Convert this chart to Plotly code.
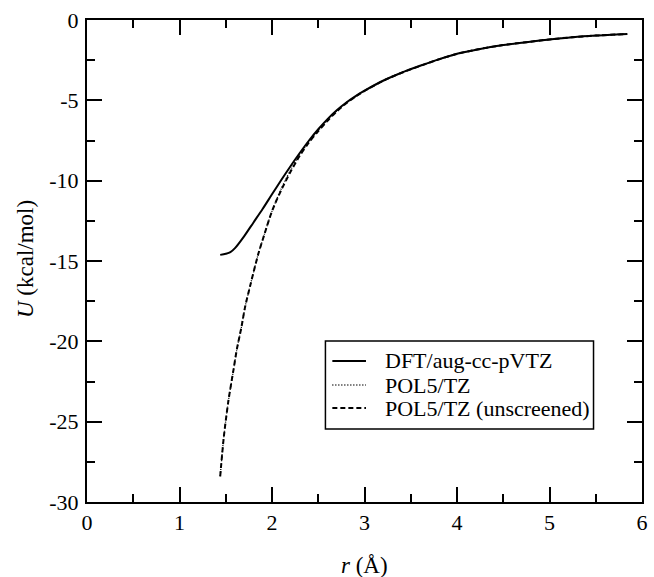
import plotly.graph_objects as go

# Interaction energy U (kcal/mol) versus separation r (Angstrom)
r_dft = [1.44, 1.50, 1.55, 1.60, 1.70, 1.80, 1.90, 2.00, 2.10, 2.20, 2.30, 2.40,
         2.50, 2.60, 2.70, 2.80, 2.90, 3.00, 3.20, 3.40, 3.60, 3.80, 4.00, 4.25,
         4.50, 4.75, 5.00, 5.25, 5.50, 5.84]
u_dft = [-14.62, -14.55, -14.45, -14.20, -13.45, -12.60, -11.75, -10.85, -9.96,
         -9.10, -8.28, -7.50, -6.80, -6.17, -5.62, -5.15, -4.75, -4.40, -3.78,
         -3.28, -2.85, -2.45, -2.10, -1.80, -1.56, -1.38, -1.21, -1.07, -0.97, -0.87]

r_pol = [1.44, 1.48, 1.53, 1.58, 1.62, 1.67, 1.71, 1.77, 1.85, 1.92, 2.00, 2.10,
         2.20, 2.30, 2.40, 2.50, 2.60, 2.70, 2.80, 2.90, 3.00, 3.20, 3.40, 3.60,
         3.80, 4.00, 4.25, 4.50, 4.75, 5.00, 5.25, 5.50, 5.84]
u_pol = [-28.40, -25.90, -23.65, -21.90, -20.50, -19.10, -17.84, -16.40, -14.60,
         -13.30, -11.90, -10.50, -9.35, -8.38, -7.58, -6.88, -6.24, -5.67, -5.18,
         -4.77, -4.42, -3.79, -3.29, -2.86, -2.46, -2.11, -1.80, -1.56, -1.38,
         -1.21, -1.07, -0.97, -0.87]
u_pol_unscr = [-28.40, -25.90, -23.65, -21.90, -20.50, -19.10, -17.84, -16.40,
               -14.60, -13.30, -11.90, -10.58, -9.45, -8.45, -7.62, -6.92, -6.27,
               -5.69, -5.20, -4.78, -4.42, -3.79, -3.29, -2.86, -2.46, -2.11,
               -1.80, -1.56, -1.38, -1.21, -1.07, -0.97, -0.87]

x_ticks = [0, 1, 2, 3, 4, 5, 6]
y_ticks = [0, -5, -10, -15, -20, -25, -30]

series_names = ["DFT/aug-cc-pVTZ", "POL5/TZ", "POL5/TZ (unscreened)"]
series_styles = [dict(width=2, dash="solid"),
                 dict(width=1.3, dash="1px,2px"),
                 dict(width=2, dash="5px,3px")]

FONT = "Liberation Serif, Times New Roman, serif"

fig = go.Figure()
series_data = [(r_dft, u_dft), (r_pol, u_pol), (r_pol, u_pol_unscr)]
for (xs, ys), name, style in zip(series_data, series_names, series_styles):
    fig.add_trace(go.Scatter(x=xs, y=ys, mode="lines", name=name, showlegend=False,
                             line=dict(color="black", shape="spline",
                                       smoothing=0.8, **style)))

axis_common = dict(
    showgrid=False, zeroline=False, showline=True, linecolor="black", linewidth=2,
    mirror="allticks", ticks="inside", ticklen=15, tickwidth=2, tickcolor="black",
    tickfont=dict(family=FONT, size=22, color="black"),
)

fig.update_xaxes(range=[0, 6], tickvals=x_ticks, ticktext=[str(v) for v in x_ticks],
                 minor=dict(dtick=0.5, ticks="inside", ticklen=8, tickwidth=2,
                            tickcolor="black"),
                 ticklabelstandoff=0, **axis_common)
fig.update_yaxes(range=[-30, 0], tickvals=y_ticks, ticktext=[str(v) for v in y_ticks],
                 minor=dict(dtick=2.5, ticks="inside", ticklen=8, tickwidth=2,
                            tickcolor="black"),
                 ticklabelstandoff=2, **axis_common)

# Plot-area geometry in pixels, used to place the framed legend
W, H = 654, 577
L, R, T, B = 87, 6, 20, 75
PW, PH = W - L - R, H - T - B


def px(xp):
    return (xp - L) / PW


def py(yp):
    return (H - B - yp) / PH


fig.add_annotation(text="<i>r</i> (Å)", xref="paper", yref="paper", x=0.5, y=0,
                   yshift=-63, showarrow=False, xanchor="center", yanchor="middle",
                   font=dict(family=FONT, size=23, color="black"))
fig.add_annotation(text="<i>U</i> (kcal/mol)", xref="paper", yref="paper", x=0,
                   y=py(259), xshift=-62, textangle=-90, showarrow=False,
                   xanchor="center", yanchor="middle",
                   font=dict(family=FONT, size=23, color="black"))

# Legend frame, sample lines and labels
fig.add_shape(type="rect", xref="paper", yref="paper",
              x0=px(328), x1=px(599), y0=py(429), y1=py(341),
              line=dict(color="black", width=1.5), fillcolor="white", layer="above")
row_y = [361, 385, 408]
for yy, name, style in zip(row_y, series_names, series_styles):
    fig.add_shape(type="line", xref="paper", yref="paper",
                  x0=px(335), x1=px(369), y0=py(yy), y1=py(yy),
                  line=dict(color="black", **style), layer="above")
    fig.add_annotation(text=name, xref="paper", yref="paper", x=px(386), y=py(yy),
                       showarrow=False, xanchor="left", yanchor="middle",
                       font=dict(family=FONT, size=22, color="black"))

fig.update_layout(
    width=W, height=H,
    margin=dict(l=L, r=R, t=T, b=B),
    paper_bgcolor="white", plot_bgcolor="white",
    font=dict(family=FONT, color="black"),
    showlegend=False,
)

fig.write_html("out.html")
